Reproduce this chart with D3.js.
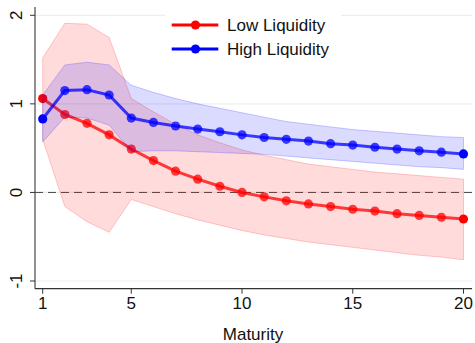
<!DOCTYPE html>
<html>
<head>
<meta charset="utf-8">
<script src="https://cdn.jsdelivr.net/npm/d3@7"></script>
<style>
  html, body { margin: 0; padding: 0; background: #fff; }
  svg { display: block; font-family: "Liberation Sans", Arial, sans-serif; }
</style>
</head>
<body>
<svg id="chart" width="475" height="343"></svg>
<script>
const maturity = [1,2,3,4,5,6,7,8,9,10,11,12,13,14,15,16,17,18,19,20];
const lowMid   = [1.06,0.88,0.78,0.65,0.49,0.36,0.24,0.15,0.07,0.00,-0.05,-0.095,-0.13,-0.16,-0.19,-0.21,-0.24,-0.26,-0.28,-0.30];
const lowUpper = [1.52,1.91,1.90,1.75,1.06,0.91,0.77,0.65,0.56,0.48,0.42,0.37,0.32,0.29,0.26,0.23,0.21,0.19,0.17,0.15];
const lowLower = [0.60,-0.16,-0.33,-0.45,-0.08,-0.16,-0.24,-0.31,-0.37,-0.43,-0.48,-0.52,-0.56,-0.59,-0.62,-0.65,-0.68,-0.71,-0.73,-0.76];
const highMid   = [0.83,1.15,1.16,1.10,0.84,0.79,0.75,0.715,0.685,0.65,0.62,0.60,0.58,0.55,0.535,0.51,0.49,0.47,0.455,0.435];
const highUpper = [1.10,1.44,1.47,1.44,1.21,1.13,1.06,1.00,0.95,0.90,0.85,0.80,0.77,0.74,0.71,0.69,0.67,0.65,0.63,0.62];
const highLower = [0.57,0.85,0.84,0.76,0.46,0.47,0.47,0.46,0.45,0.44,0.43,0.41,0.39,0.37,0.35,0.33,0.31,0.29,0.28,0.26];
const xTicks = [1,5,10,15,20];
const yTicks = [-1,0,1,2];
const seriesNames = ["Low Liquidity","High Liquidity"];

const svg = d3.select("#chart");
const x = d3.scaleLinear().domain([1,20]).range([42.7,463.5]);
const y = d3.scaleLinear().domain([-1,2]).range([281,15.3]);

// gridlines
svg.append("g").selectAll("line").data(yTicks).join("line")
  .attr("x1",35).attr("x2",472)
  .attr("y1",d=>y(d)).attr("y2",d=>y(d))
  .attr("stroke","#eaf0f0").attr("stroke-width",1.2);

// zero dashed line
svg.append("line").attr("x1",35).attr("x2",472).attr("y1",y(0)).attr("y2",y(0))
  .attr("stroke","#444").attr("stroke-width",1).attr("stroke-dasharray","8,5");

const area = (lo,hi) => d3.area().x((d,i)=>x(maturity[i])).y0((d,i)=>y(lo[i])).y1((d,i)=>y(hi[i]));
const line = vals => d3.line().x((d,i)=>x(maturity[i])).y((d,i)=>y(vals[i]));

function drawSeries(mid, lo, hi, color) {
  svg.append("path").attr("d", area(lo,hi)(maturity))
    .attr("fill",color).attr("fill-opacity",0.14)
    .attr("stroke",color).attr("stroke-opacity",0.2).attr("stroke-width",1);
  svg.append("path").attr("d", line(mid)(maturity))
    .attr("fill","none").attr("stroke",color).attr("stroke-opacity",0.75).attr("stroke-width",3);
  svg.append("g").selectAll("circle").data(maturity).join("circle")
    .attr("cx",d=>x(d)).attr("cy",(d,i)=>y(mid[i])).attr("r",4.6)
    .attr("fill",color).attr("fill-opacity",(d,i)=> (i===0||i===maturity.length-1)?1:0.75);
}
drawSeries(lowMid, lowLower, lowUpper, "#ff0000");
drawSeries(highMid, highLower, highUpper, "#0000ff");

// axes
const yAxis = svg.append("g").attr("transform","translate(35,0)");
yAxis.append("line").attr("x1",0).attr("x2",0).attr("y1",7).attr("y2",288.7)
  .attr("stroke","#555").attr("stroke-width",1.3);
yAxis.selectAll("line.tick").data(yTicks).join("line").attr("class","tick")
  .attr("x1",-5).attr("x2",0).attr("y1",d=>y(d)).attr("y2",d=>y(d))
  .attr("stroke","#333").attr("stroke-width",1);
yAxis.selectAll("text").data(yTicks).join("text")
  .attr("transform",d=>`translate(-19.5,${y(d)}) rotate(-90)`)
  .attr("text-anchor","middle").attr("dy","0.36em")
  .attr("font-size",17).attr("fill","#111").text(d=>d);

const xAxis = svg.append("g").attr("transform","translate(0,288.7)");
xAxis.append("line").attr("x1",35).attr("x2",472).attr("y1",0).attr("y2",0)
  .attr("stroke","#333").attr("stroke-width",1.3);
xAxis.selectAll("line.tick").data(xTicks).join("line").attr("class","tick")
  .attr("x1",d=>x(d)).attr("x2",d=>x(d)).attr("y1",0).attr("y2",5)
  .attr("stroke","#333").attr("stroke-width",1);
xAxis.selectAll("text").data(xTicks).join("text")
  .attr("x",d=>x(d)).attr("y",20.5).attr("text-anchor","middle")
  .attr("font-size",17).attr("fill","#111").text(d=>d);

svg.append("text").attr("x",253).attr("y",340).attr("text-anchor","middle")
  .attr("font-size",17).attr("fill","#111").text("Maturity");

// legend
const leg = svg.append("g");
leg.append("rect").attr("x",165).attr("y",4).attr("width",176).attr("height",64).attr("fill","#fff");
const legColors = ["#ff0000","#0000ff"];
seriesNames.forEach((name,i)=>{
  const ly = 25 + i*24;
  leg.append("line").attr("x1",171.7).attr("x2",218.3).attr("y1",ly).attr("y2",ly)
    .attr("stroke",legColors[i]).attr("stroke-width",3);
  leg.append("circle").attr("cx",195.5).attr("cy",ly).attr("r",4.6).attr("fill",legColors[i]);
  leg.append("text").attr("x",227).attr("y",ly).attr("dy","0.36em")
    .attr("font-size",17).attr("fill","#111").text(name);
});
</script>
</body>
</html>
